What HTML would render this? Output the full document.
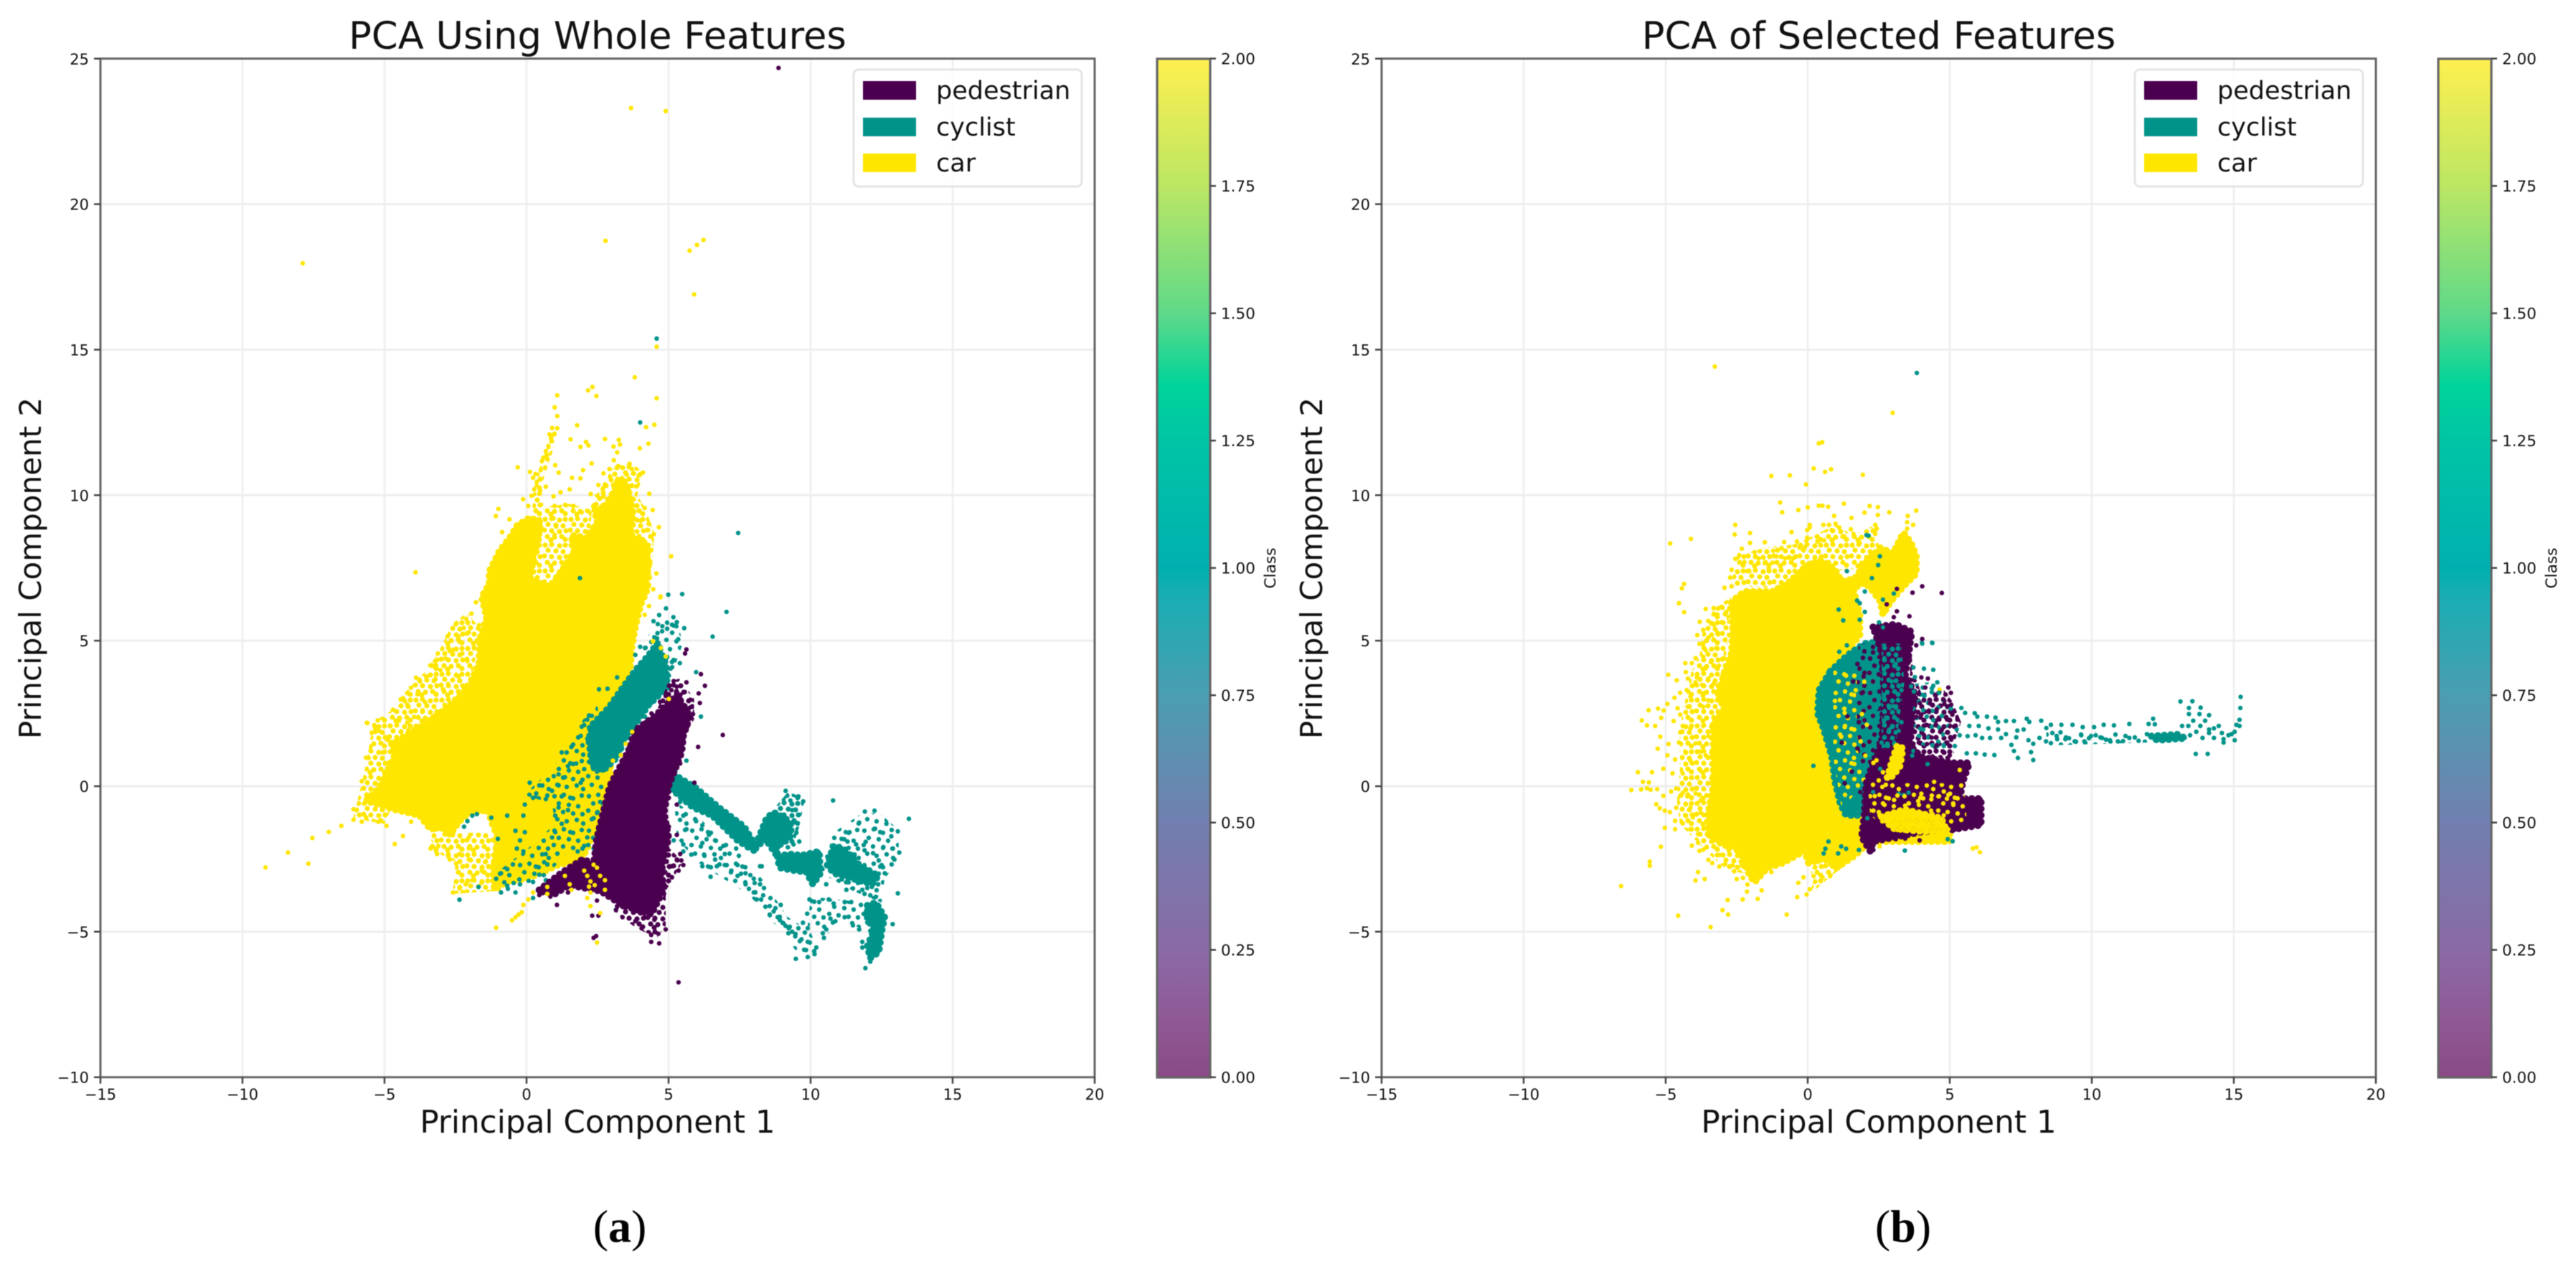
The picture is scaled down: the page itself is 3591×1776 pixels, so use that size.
<!DOCTYPE html>
<html lang="en">
<head>
<meta charset="utf-8">
<title>PCA scatter comparison</title>
<style>
html,body{margin:0;padding:0;background:#fff;}
svg{display:block;filter:blur(.6px);}
text{font-family:"DejaVu Sans","Liberation Sans",sans-serif;fill:#111;}
.cap{font-family:"Liberation Serif",serif;font-size:64px;fill:#000;}
</style>
</head>
<body>
<svg id="fig" xmlns="http://www.w3.org/2000/svg" width="3591" height="1776" viewBox="0 0 3591 1776">
<defs>
<linearGradient id="cbGrad" x1="0" y1="1" x2="0" y2="0">
<stop offset="0" stop-color="#8a4a87"/><stop offset=".06" stop-color="#8f5a96"/><stop offset=".125" stop-color="#8a6aa6"/><stop offset=".25" stop-color="#727fb0"/><stop offset=".375" stop-color="#4b9eb2"/><stop offset=".475" stop-color="#18aeb2"/><stop offset=".5" stop-color="#00b0b0"/><stop offset=".625" stop-color="#00c5a5"/><stop offset=".68" stop-color="#00d49a"/><stop offset=".75" stop-color="#5fd98a"/><stop offset=".875" stop-color="#bbe763"/><stop offset="1" stop-color="#fff050"/>
</linearGradient>
<g id="tileDense"><circle cx="4" cy="4" r="3.6"/><circle cx="13" cy="3" r="3.6"/><circle cx="24" cy="5" r="3.6"/><circle cx="32" cy="4" r="3.6"/><circle cx="8" cy="11" r="3.6"/><circle cx="19" cy="12" r="3.6"/><circle cx="29" cy="13" r="3.6"/><circle cx="3" cy="19" r="3.6"/><circle cx="13" cy="20" r="3.6"/><circle cx="24" cy="21" r="3.6"/><circle cx="33" cy="20" r="3.6"/><circle cx="7" cy="28" r="3.6"/><circle cx="17" cy="29" r="3.6"/><circle cx="27" cy="28" r="3.6"/><circle cx="12" cy="33" r="3.6"/><circle cx="32" cy="32" r="3.6"/></g>
<g id="tileLight"><circle cx="5" cy="6" r="3.2"/><circle cx="18" cy="4" r="3.2"/><circle cx="31" cy="9" r="3.2"/><circle cx="43" cy="5" r="3.2"/><circle cx="11" cy="16" r="3.2"/><circle cx="25" cy="18" r="3.2"/><circle cx="38" cy="20" r="3.2"/><circle cx="4" cy="26" r="3.2"/><circle cx="17" cy="28" r="3.2"/><circle cx="31" cy="30" r="3.2"/><circle cx="44" cy="31" r="3.2"/><circle cx="9" cy="38" r="3.2"/><circle cx="22" cy="41" r="3.2"/><circle cx="36" cy="39" r="3.2"/><circle cx="45" cy="44" r="3.2"/><circle cx="27" cy="8" r="3.2"/></g>
<pattern id="speck-0-dense" width="36" height="36" patternUnits="userSpaceOnUse"><use href="#tileDense" fill="#4b004f"/></pattern>
<pattern id="speck-1-dense" width="36" height="36" patternUnits="userSpaceOnUse"><use href="#tileDense" fill="#00938a"/></pattern>
<pattern id="speck-2-dense" width="36" height="36" patternUnits="userSpaceOnUse"><use href="#tileDense" fill="#ffe600"/></pattern>
<pattern id="speck-0-light" width="48" height="48" patternUnits="userSpaceOnUse"><use href="#tileLight" fill="#4b004f"/></pattern>
<pattern id="speck-1-light" width="48" height="48" patternUnits="userSpaceOnUse"><use href="#tileLight" fill="#00938a"/></pattern>
<pattern id="speck-2-light" width="48" height="48" patternUnits="userSpaceOnUse"><use href="#tileLight" fill="#ffe600"/></pattern>
</defs>
<text class="cap" x="864" y="1731" text-anchor="middle">(<tspan font-weight="bold">a</tspan>)</text>
<text class="cap" x="2653" y="1731" text-anchor="middle">(<tspan font-weight="bold">b</tspan>)</text>
</svg>
<script>
const xTicks=[-15,-10,-5,0,5,10,15,20];
const yTicks=[-10,-5,0,5,10,15,20,25];
const cbTicks=[0,0.25,0.5,0.75,1,1.25,1.5,1.75,2];
const classNames=['pedestrian','cyclist','car'];
const classColors=['#4b004f','#00938a','#ffe600'];

/* ---------- Panel A: dense regions, data units ---------- */
const aCarBlob=[[-4.75,1.48],[-4.39,1.66],[-3.48,2.19],[-2.76,2.72],[-2.03,3.42],[-1.67,4.21],[-1.63,5.09],[-1.4,5.8],[-1.58,6.5],[-1.31,6.94],[-1.31,7.38],[-.95,8.09],[-.59,8.53],[-.32,8.97],[.14,9.23],[.5,9.05],[.41,8.53],[.23,7.82],[.14,7.12],[.5,6.94],[.86,6.85],[1.22,7.38],[1.67,8],[1.58,8.62],[2.12,8.53],[2.49,9.05],[2.4,9.5],[2.76,9.58],[3.03,10.02],[3.21,10.46],[3.48,10.46],[3.62,10.02],[3.75,9.41],[3.66,8.62],[4.2,8.35],[4.29,7.65],[4.2,7.03],[4.29,6.85],[4.02,6.24],[3.84,5.53],[3.7,4.74],[3.66,4.12],[3.3,3.2],[3,2],[2.93,0],[2.48,-1.2],[2.14,-2.14],[1.92,-2.52],[1.13,-2.7],[.45,-3],[0,-3.18],[-.68,-3.27],[-1.13,-3.56],[-1.18,-2.9],[-1.01,-1.76],[-1.24,-1.2],[-1.35,-.82],[-2.03,-.92],[-2.36,-1.2],[-2.7,-1.67],[-2.93,-1.39],[-3.38,-1.48],[-3.77,-1],[-4.64,-.8],[-5.65,-.5],[-5.2,-.08],[-4.64,1.05]];
const aCarFringeLeft=[[-6.1,-1.1],[-5.8,.1],[-5.6,1],[-5.4,2.2],[-4.6,2.7],[-4.2,3.3],[-3.6,3.9],[-3.1,4.6],[-2.6,5.6],[-2.1,5.95],[-1.6,5.4],[-2,3.4],[-4,1],[-5,-1.3]];
const aCarFringeSpike=[[.2,9.3],[.25,10.2],[.45,10.9],[.7,11.6],[.9,12.3],[1.1,12.3],[.95,11.6],[.75,11],[.55,10.4],[.6,9.3]];
const aCarFringeCrest=[[2.2,9.5],[2.7,10.4],[3.1,11],[3.7,11.1],[4.1,10.8],[3.9,10],[4.2,9.5],[4.5,8.7],[4.4,7.2],[3.7,8.5]];
const aCarFringeNotch=[[-.3,8.9],[.6,9.6],[1.5,9.7],[2.3,9.5],[2.2,8.3],[1.5,7.4],[.8,6.9],[.2,7]];
const aCarFringeLower=[[-3.4,-1.4],[-2.7,-1.6],[-1.1,-1.6],[-1.1,-3.6],[-2.6,-3.7],[-2.5,-2.6],[-3.3,-2.2]];
const aCyclistBlob=[[4.6,4.9],[4.9,4.2],[4.95,3.4],[4.3,2.8],[3.8,2.1],[3.4,1.5],[3.2,1],[2.7,.55],[2.3,.7],[2.2,1.6],[2.3,2.1],[2.9,2.7],[3.4,3.4],[3.85,4],[4.3,4.5]];
const aCyclistSpeckOnCar=[[-.1,-.3],[.9,.6],[1.4,1.3],[2,2.3],[2.5,2.8],[2.6,1.5],[2.8,.8],[2.6,-1.3],[2.2,-2.2],[1.4,-2.3],[.7,-3.1],[-.9,-3.7],[-1.1,-3],[.1,-2.1],[1,-1.3],[.9,-.6]];
const aCyclistSpeckTop=[[4,4.5],[4.6,5.9],[5.3,5.7],[5.5,4.9],[5.1,3.8],[4.7,4.5]];
const aCyclistSpeckBand=[[5.2,-.5],[6.2,-1.2],[7.6,-2.4],[8.3,-3.2],[9.2,-4.5],[10,-5],[10.3,-5.8],[9.6,-5.8],[8.8,-4.8],[7.8,-3.7],[6.8,-3.1],[6,-2.6],[5.3,-1.8]];
const aCyclistSpeckCloud=[[10.4,-3],[10.8,-1.6],[11.7,-1],[12.4,-.9],[13.1,-1.5],[13.1,-2.5],[12.6,-3.2],[12.5,-4],[11.5,-3.6]];
const aCyclistSpeckFork=[[8,-2],[8.6,-.9],[9.2,-.2],[9.8,-.4],[9.6,-1.4],[9.4,-2]];
const aCyclistSpeckLow=[[10,-3.8],[11,-3.9],[12,-4],[12.1,-5],[11,-4.6],[10.5,-5.2],[9.9,-4.8]];
const aCyclistTail=[[5.18,.41],[5.97,-.07],[6.76,-.73],[7.66,-1.39],[8,-1.95],[7.88,-2.14],[7.43,-1.86],[6.53,-1],[5.86,-.73],[5.07,-.07]];
const aCyclistFork=[[8,-2.2],[8.45,-1.1],[8.7,-.9],[9.1,-1.1],[9.3,-1.3],[9.3,-1.7],[9,-2],[8.8,-2],[8.84,-2.42],[8.4,-1.8]];
const aCyclistBlock=[[8.84,-2.42],[8.9,-2.8],[9.46,-2.9],[9.85,-2.95],[10.08,-3.37],[10.34,-3],[10.3,-2.24],[9.68,-2.38],[9.24,-2.33]];
const aCyclistCore=[[10.59,-2.71],[10.81,-2.05],[11.15,-2.14],[11.71,-2.71],[12.38,-3.08],[12.16,-3.37],[11.49,-3.18],[10.81,-2.99]];
const aCyclistSpot=[[12,-4.1],[12.3,-4],[12.6,-4.5],[12.5,-5],[12.4,-5.7],[12.1,-5.9],[12,-5.5],[12.25,-4.9],[12,-4.6]];
const aPedestrianBlob=[[3.6,1.25],[2.93,0],[2.48,-1.76],[2.36,-2.7],[2,-2.5],[1.2,-3],[.4,-3.6],[1,-3.7],[1.5,-3.4],[2.6,-3.6],[3.4,-4.1],[4.4,-4.4],[4.85,-3.5],[4.73,-2.99],[5,-1.76],[4.84,-.92],[5,0],[5.46,1.16],[5.52,1.73],[5.74,2.39],[5.3,3.14],[4.5,2.39],[3.83,1.92]];
const aPedestrianSpeckTop=[[4.5,2.4],[5,3.6],[5.4,3.7],[5.9,3],[5.9,2.3],[5.5,1.6],[5.4,1]];
const aPedestrianSpeckLow=[[2.9,-3.5],[3.2,-4.4],[3.9,-4.9],[4.6,-5.2],[4.9,-4.8],[4.9,-3.6],[5.5,-2.6],[5,-2.1],[4.7,-3]];

/* ---------- Panel A: sparse points, data units ---------- */
const aCarPoints=[[-7.88,17.97],[3.68,23.3],[4.9,23.2],[2.78,18.74],[5.74,18.4],[6,18.6],[6.23,18.77],[5.9,16.9],[4.58,15.1],[3.81,14.05],[2.32,13.72],[2.17,13.6],[2.46,13.41],[1.08,13.43],[4.58,13.33],[.99,13.02],[1.08,12.72],[1.78,12.4],[4.5,12.42],[4.21,12.34],[.9,12.31],[1.08,12.3],[.81,12.09],[.86,11.96],[1.55,11.92],[2.76,11.93],[3.25,11.9],[2.09,11.83],[2.18,11.71],[1.9,11.66],[3.29,11.74],[3.06,11.67],[4.29,11.77],[3.99,11.61],[3.19,11.47],[.77,11.69],[.68,11.51],[.59,11.29],[.54,11.17],[.72,11.38],[1.01,11.03],[1.13,10.78],[2.29,11.09],[3.07,11.2],[2.92,10.9],[3.23,11],[3.63,11.08],[3.71,10.9],[1.99,10.86],[2.71,10.75],[2.94,10.64],[3.53,10.7],[4.1,10.78],[3.95,10.68],[1.6,10.6],[1.9,10.58],[.5,10.86],[.32,10.73],[.23,10.6],[.36,10.46],[.27,10.2],[.48,10.15],[.68,10.29],[-.31,10.96],[.12,10.8],[2.53,10.35],[2.76,10.37],[1.52,10.2],[3.86,10.3],[4.32,10.05],[1.2,10.1],[.95,9.96],[2.26,10.04],[2.49,9.98],[2.71,9.95],[-.12,9.86],[.18,9.98],[-.99,9.53],[-1.08,9.28],[-.6,9.17],[.06,9.63],[4.16,9.56],[4.44,9.49],[.99,9.63],[1.36,9.67],[1.65,9.63],[1.94,9.41],[4.02,9.12],[4.3,9.02],[4.66,8.9],[.95,9.21],[1.04,8.92],[.99,8.64],[-.86,8.73],[4.48,8.66],[5.09,7.9],[4.57,7.31],[4.34,7.16],[-3.91,7.35],[4.46,6.77],[4.72,6.52],[4.31,6.19],[4.16,5.89],[-1.78,6.32],[-1.94,5.93],[-2.12,5.75],[-1.67,5.53],[-2.49,5.56],[-2.21,5.44],[-2.03,5.29],[-2.4,5.14],[-2.78,5.15],[-2.35,4.96],[-1.85,4.74],[-2.58,4.69],[-2.71,4.65],[-3.12,4.56],[-2.26,4.56],[-2.85,4.39],[-3.21,4.3],[-3.39,4.15],[-2.08,4.3],[-3.03,3.99],[-3.89,3.73],[-3.53,3.77],[-3.21,3.68],[-3.75,3.6],[-4.07,3.38],[-4.2,3.2],[-3.84,3.16],[-3.57,2.89],[-4.43,2.98],[-4.2,2.8],[-4.7,2.63],[-3.66,2.61],[-3.96,2.38],[-4.49,2.25],[-5.6,2.17],[-5.24,2.26],[-5.33,2.01],[-5.45,1.84],[-4.9,1.59],[-5.06,1.16],[-5.56,.97],[-4.2,2.19],[-4.16,1.93],[-2.76,3.51],[-2.94,3.33],[-2.4,3.77],[-2.21,3.42],[-3.38,-2.14],[-3.1,-2.05],[-3.15,-2.33],[-2.25,-1.86],[-2.03,-1.76],[-2.36,-2.33],[-2.7,-2.52],[-2.48,-2.66],[-2.03,-2.14],[-2.03,-2.52],[-2.59,-3.65],[-2.36,-3.51],[-2.14,-3.37],[-1.91,-3.23],[-1.58,-2.9],[-1.46,-2.61],[-1.58,-3.32],[-1.35,-2.42],[-1.07,-4.86],[-.51,-4.61],[-.39,-4.5],[-.28,-4.41],[-.17,-4.33],[-.11,-4.08],[.06,-3.89],[.23,-3.65],[-9.19,-2.79],[-7.68,-2.66],[-8.4,-2.28],[-7.54,-1.78],[-6.96,-1.57],[-6.52,-1.36],[-6.09,-1.15],[-5.65,-1.07],[-6.09,-.79],[-5.8,-1.22],[-4.64,-1.99],[-4.35,-1.71],[-4.93,-1.36],[-5.22,-1.22],[-4.06,-1.22],[-3.33,-2.07],[-2.75,-2.42],[-3.19,-2.21],[-5.62,2.18],[-5.65,.98],[-5.8,.17],[-5.5,.48],[-5.2,1.9],[-5.36,2.1],[-4.35,3.03],[-3.77,3.66],[-3.19,4.16]];
const aCyclistPoints=[[4.58,15.38],[7.45,8.7],[4,12.5],[5.48,6.6],[4.99,6.58],[7.04,5.99],[6.55,5.14],[4.91,6.11],[4.67,5.88],[4.47,5.67],[5.17,5.81],[5.29,5.64],[5.55,5.43],[4.78,5.5],[4.95,5.41],[4.61,5.26],[4.5,5.12],[5.12,5.55],[5.34,5.05],[3.83,4.51],[4,4.79],[4.17,4.75],[5.4,4.23],[5.07,4.04],[5.12,4.27],[5.01,3.8],[5.97,3.92],[3.19,3.74],[2.85,3.35],[2.55,3.33],[6.14,2.39],[1.88,7.15],[2.2,2.43],[2.14,2.29],[2.03,2.1],[1.91,1.73],[2.48,1.82],[2.14,1.63],[2.31,1.25],[1.24,1.16],[1.58,1.35],[1.75,.78],[1.46,.69],[1.13,.41],[2.03,.59],[1.35,.31],[2.48,.5],[2.7,.88],[1.91,.12],[.9,-.16],[1.13,.03],[.45,.03],[.11,.12],[.34,-.25],[.68,-.44],[.23,-.4],[-.06,-.63],[1.24,-.35],[1.46,-.82],[1.13,-.73],[1.01,-1.01],[2.59,-.54],[2.48,-.92],[2.36,-1.1],[2.7,-1.1],[1.24,-1.29],[1.01,-1.58],[.9,-1.76],[-.11,-1.01],[-.68,-1.01],[-1.24,-1.08],[-1.91,-1.01],[-2.08,-1.2],[-2.2,-1.39],[-1.75,-.96],[-.06,-1.58],[-.39,-1.53],[-1.01,-1.81],[-.23,-1.86],[-.34,-2.14],[-.11,-2.24],[.68,-2.33],[.62,-2.61],[1.8,-2.24],[2.03,-2.05],[2.14,-1.76],[2.36,-2.14],[2.48,-1.67],[-.68,-2.85],[-.9,-2.99],[-1.07,-3.18],[-.68,-3.42],[-.9,-3.65],[-.39,-3.65],[-.23,-3.37],[-1.69,-3.46],[-2.36,-3.9],[.23,-3.29],[.45,-3.04],[.68,-3.23],[.23,-3.84],[3.15,-4.24],[4.5,-.16],[4.56,-.63],[4.62,-.96],[5.41,1.25],[5.63,.88],[5.24,.5],[5.29,1.73],[5.01,1.82],[4.84,1.4],[4.39,2.86],[5.18,2.58],[5.41,2.2],[4.17,2.39],[2.87,-.77],[2.59,-1.29],[4.9,-.54],[5.41,-.54],[5.52,-1.01],[5.63,-1.48],[5.97,-1.2],[6.19,-1.34],[6.42,-1.67],[6.64,-1.86],[6.93,-2.05],[6.19,-1.95],[5.52,-2],[5.18,-1.86],[5.8,-2.35],[5.52,-2.24],[6.25,-2.35],[6.19,-2.75],[6.48,-3.11],[6.64,-2.52],[6.98,-2.33],[7.38,-2.14],[6.98,-2.71],[7.43,-2.71],[6.7,-2.75],[7.21,-2.9],[7.43,-3.08],[7.71,-2.99],[8,-3.18],[8.22,-3.37],[8.28,-2.75],[7.71,-3.37],[8,-3.65],[8.33,-3.75],[8.1,-3.89],[8.56,-4.12],[8.95,-4.08],[8.56,-4.41],[9.01,-4.69],[9.23,-4.88],[9.46,-5.16],[8.84,-4.5],[8.7,-4.3],[8.92,-4.6],[9.12,-4.8],[9.35,-5],[9.68,-5.26],[9.9,-5.35],[9.84,-5.63],[9.9,-5.87],[9.48,-5.93],[10.14,-5.77],[10.2,-5.54],[10.47,-5.21],[10.55,-4.92],[9.9,-4.88],[9.57,-4.88],[9.73,-4.69],[9.88,-4.38],[9.96,-3.89],[10.3,-3.98],[10.64,-3.89],[10.81,-4.03],[10.7,-4.55],[10.87,-4.64],[11.2,-3.98],[11.43,-3.98],[11.77,-4.08],[11.2,-4.5],[11.49,-4.78],[11.71,-4.92],[12.1,-4.97],[11.82,-5.35],[11.82,-5.54],[12.1,-6.03],[11.93,-6.25],[12.89,-4.74],[13.07,-3.68],[10.55,-3.37],[10.79,-.49],[9.12,-.16],[9.57,-.35],[9.74,-.52],[9.29,-.49],[9.35,-.82],[9.46,-1.24],[11.91,-.87],[12.25,-.84],[13.46,-1.12],[11.71,-1.25],[12.67,-1.29],[12.27,-1.46],[11.37,-1.58],[13.07,-1.55],[11.09,-1.81],[11.94,-1.91],[12.84,-1.72],[12.56,-2.09],[13.12,-2.28],[12.9,-2.14],[10.87,-2.14],[10.59,-2.42],[10.42,-2.85],[10.81,-2.9],[11.26,-3.56],[11.49,-3.51],[11.82,-3.56],[12.61,-2.99],[12.38,-3.37],[12.16,-3.46],[12.5,-2.71],[12.95,-2.52],[8.22,-2.75],[11.3,-1.9],[11.6,-2],[11.9,-2.2],[12.2,-2.3],[12.4,-2.55],[11.55,-2.35],[11.25,-3.3],[11.9,-3.7],[12.1,-3.75],[12.3,-3.8],[11.1,-3.2],[11,-2.7],[9.5,-1.6],[9.6,-1.9],[9.4,-2],[9.2,-2.1]];
const aPedestrianPoints=[[8.87,24.68],[5.35,-6.74],[2.36,-5.21],[2.45,-5.15],[4.39,-5.35],[4.67,-5.4],[4.39,-5.11],[4.64,-5.07],[4.9,-4.92],[4.05,-4.88],[3.83,-4.64],[3.38,-4.5],[3.15,-4.26],[4.17,-4.5],[4.5,-4.59],[2.31,-4.45],[2.53,-4.45],[1.07,-4.08],[.84,-3.79],[1.46,-3.65],[.45,-3.74],[.56,-3.46],[.9,-3.37],[1.13,-3.27],[1.69,-3.08],[1.91,-2.7],[2.48,-3.93],[3.27,-3.93],[3.49,-3.74],[3.83,-4.03],[4.05,-3.84],[4.28,-4.22],[4.39,-3.84],[4.84,-3.7],[4.84,-3.37],[5.12,-3.13],[5.52,-2.71],[5.29,-2.52],[5.41,-2.33],[5.01,-1.39],[5.29,-1.67],[5.29,-.63],[5.01,-.4],[5.91,.12],[6.04,1.35],[6.91,1.76],[6.28,3.45],[6.14,3.85],[5.63,4.7],[5.58,4.56],[6.06,3.19],[6.1,2.86],[5.77,2.97],[5.57,3.24],[5.29,3.42],[5.18,3.61],[5.63,3.57],[5.86,2.48],[5.63,2.67],[5.52,1.63],[5.41,.78],[5.2,2.9],[5.4,3],[4.9,3.1],[5.1,3.3],[4.7,2.9],[5.5,2.5],[5.75,2.7],[4.4,2.5],[4.2,2.2],[5.35,-2.9],[5.1,-2.75],[5.45,-2.55]];
const aCarTopPoints=[[.73,-3.46],[.73,-3.7],[1.52,-3.37],[1.58,-3.56],[1.35,-3.08],[2.03,-2.9],[2.14,-3.08],[2.25,-3.27],[2.48,-2.8],[2.59,-3.08],[2.76,-3.23],[2.76,-3.56],[2.25,-3.65],[2.14,-3.84],[2.25,-4.12],[2.59,-4.36],[2.48,-5.37],[2.36,-2.7],[5.01,3],[3.32,1.07],[3.04,.88],[3.72,1.87],[3.49,1.46],[4.71,6.49],[4.45,4.98],[4.73,4.75],[4.9,4.46],[2.2,-3.45],[2.4,-3.4]];

/* ---------- Panel B: dense regions, data units ---------- */
const bCarBlob=[[-3.5,-1.65],[-3.5,-.9],[-3.32,0],[-3.32,1.32],[-3.32,2.2],[-2.95,2.64],[-3.13,3.17],[-2.95,3.87],[-2.68,4.58],[-2.64,5.46],[-2.68,6.34],[-2.23,6.69],[-1.24,6.69],[-.6,7.04],[-.06,7.57],[.48,7.75],[.93,7.48],[1.2,7.04],[1.65,7.13],[2.1,7.75],[2.56,8.19],[3,8],[3.37,8.71],[3.64,8.36],[3.82,7.92],[3.82,7.3],[3.37,6.87],[2.92,6.34],[2.65,5.9],[2.55,6.35],[2.3,6.7],[2,7],[1.6,6.8],[1.83,5.9],[1.83,5.2],[1.29,4.49],[.75,3.96],[.39,3.52],[.3,2.64],[.66,1.76],[.93,.88],[.93,0],[.84,-.25],[1.5,-.3],[5,-1],[5,-1.9],[2.5,-1.9],[2.1,-1.98],[1.65,-2.39],[1.02,-2.8],[.57,-2.47],[.03,-2.64],[-.11,-2.22],[-.88,-2.64],[-1.42,-2.8],[-1.87,-3.3],[-2.05,-3.05],[-2.32,-2.39],[-2.6,-2.06],[-3.04,-1.98]];
const bCarFringeLeft=[[-2.7,6.5],[-3.3,6.1],[-3.7,5.3],[-3.8,4.5],[-4.1,3.9],[-4.3,3],[-4.5,2],[-4.5,.5],[-4.6,-.5],[-4.5,-1.3],[-4,-1.8],[-3.4,-2.4],[-2.8,-2.9],[-2.2,-3],[-2.3,-2],[-3.2,-1.5],[-3.1,2]];
const bCarFringeTop=[[-2.7,6.9],[-2.5,7.9],[-1.5,8.2],[-.5,8.3],[.2,8.6],[1,9],[1.6,8.6],[2.4,9],[2.5,8.2],[2,7.5],[1,7.4],[0,7.4],[-1,6.8]];
const bCarFringeLow=[[0,-2.6],[.2,-3.2],[.1,-3.7],[.8,-3.1],[1.2,-2.8],[.9,-2.6]];
const bCyclistBlob=[[.8,3.95],[1.4,4.5],[2,4.9],[2.9,5],[3,4.3],[2.9,3.2],[2.8,1.8],[2.5,.6],[2.2,-.5],[1.75,-1],[1.35,-1],[1.15,-.6],[.95,.2],[.85,1],[.55,2],[.35,2.5],[.4,3.3]];
const bCyclistStrip=[[12.1,1.72],[13,1.78],[13.3,1.65],[12.3,1.58]];
const bCyclistBand=[[8.4,1.4],[12,1.5],[12,1.85],[8.4,1.9]];
const bPedestrianBlob=[[2.3,5.47],[3.1,5.56],[3.66,5.31],[3.55,4.49],[3.43,3.84],[3.77,3.18],[3.7,2.4],[3.6,1.4],[4,1],[5.12,.8],[5.69,.8],[5.46,.15],[5.35,-.43],[6.1,-.43],[6.1,-1.33],[5.12,-1.49],[4,-1.57],[2.31,-1.9],[2.2,-2.23],[1.9,-1.74],[2,-.92],[2.05,.07],[2.3,.8],[2.6,1.5],[2.7,3.2],[2.6,4.6]];
const bPedestrianLace=[[3.6,5.3],[3.7,4],[4,3.2],[4.8,3.3],[5.1,2.9],[5.4,2.2],[5.1,1.3],[5.2,.9],[3.9,1.1],[3.6,1.6]];
const bPedestrianOnCyclist=[[1.8,4.9],[2.7,4.9],[2.7,2],[2.1,.5],[1.8,.7],[1.7,3]];
const bCyclistOnPedestrian=[[2.6,4.9],[3.3,4.9],[3.4,3.5],[3.1,1.4],[2.6,1.3]];
const bCyclistOnLace=[[3.6,3.5],[4.6,3.6],[5,2.2],[4.6,1.2],[3.8,1.5]];
const bCarPatchA=[[2.8,.3],[2.95,.8],[3.15,1.4],[3.35,1.3],[3.25,.7],[3,.35]];
const bCarPatchB=[[2.6,-1.05],[3.4,-.8],[4.7,-1.1],[4.9,-1.55],[4,-1.55],[3,-1.45]];
const bPedestrianOnPatch=[[2.6,-1.1],[4.9,-1.1],[4.9,-1.55],[2.6,-1.55]];
const bCarOnPedestrian=[[2.1,.2],[3.5,.1],[5.5,.1],[5.6,-1.2],[5,-1.6],[3,-1.6],[2.2,-1]];
const bCarOnCyclist=[[.9,4],[2.4,4],[2.3,.5],[1.2,-.8],[.9,1]];

/* ---------- Panel B: sparse points, data units ---------- */
const bCarPoints=[[-3.27,14.42],[2.99,12.83],[.51,11.82],[.39,11.78],[.21,10.92],[.61,10.8],[.82,10.89],[-1.28,10.66],[-.63,10.68],[1.94,10.7],[-.06,10.37],[-.97,9.75],[-.9,9.41],[-.33,9.49],[0,9.58],[.39,9.64],[.52,9.64],[.72,9.6],[1.27,9.71],[2.18,9.63],[2.47,9.59],[2,9.4],[2.47,9.32],[2.87,9.41],[3.82,9.47],[3.52,9.29],[.93,9.29],[1.54,9.22],[3.5,9.07],[3.5,8.85],[3.71,8.98],[-2.55,8.98],[.07,8.98],[.07,8.89],[.55,8.98],[.75,8.98],[.98,9.02],[2.38,8.98],[2.43,8.85],[-2.57,8.65],[-2.03,8.7],[-.57,8.73],[-.02,8.8],[.84,8.8],[1.52,8.83],[1.11,8.89],[1.61,8.67],[-4.11,8.5],[-4.84,8.34],[-2.03,8.36],[-1.51,8.38],[-.83,8.39],[-.38,8.41],[-.02,8.54],[.34,8.41],[.57,8.45],[1.29,8.58],[2.38,8.67],[1.83,8.36],[-2.32,8.16],[-1.87,8.04],[-1.22,8.09],[-.92,8.17],[-.29,8.2],[-.11,8.2],[-1.1,7.9],[-2.41,7.94],[-2.55,7.81],[-1.73,7.83],[-1.51,7.66],[-.51,7.83],[-.79,7.83],[-1.24,7.68],[-1.37,7.48],[-2.68,7.44],[-2.73,7.17],[-2.23,7.7],[-2.14,7.39],[-4.35,6.95],[-4.43,6.8],[-2.93,6.82],[-2.68,6.87],[-4.53,6.29],[-4.35,5.98],[-3.31,6.12],[-3.04,6.16],[-3.59,6.09],[-3.18,5.9],[-2.86,5.99],[-3.8,5.65],[-3.5,5.68],[-3.31,5.55],[-3.04,5.63],[-3.68,5.37],[-3.89,5.19],[-3.5,5.11],[-3.81,4.89],[-3.18,5.28],[-2.77,5.19],[-3.22,4.75],[-3.59,4.67],[-3.95,4.4],[-3.68,4.45],[-4.31,4.23],[-4.08,4.23],[-3.41,4.27],[-2.95,4.4],[-3.59,4.05],[-3.13,4.14],[-4.91,3.83],[-4.29,3.92],[-4.61,3.64],[-3.9,3.74],[-4.22,3.7],[-3.95,3.57],[-3.5,3.7],[-3.72,3.48],[-3.31,3.52],[-4.26,3.3],[-4.49,3.21],[-4.13,3.08],[-4.69,3.04],[-3.68,3.19],[-3.5,2.95],[-4.94,2.83],[-4.22,2.73],[-4.58,2.68],[-3.68,2.73],[-5.27,2.67],[-5.07,2.6],[-5.6,2.61],[-4.49,2.46],[-4.72,2.24],[-5.16,2.35],[-5.84,2.26],[-5.66,2.09],[-5.37,2.07],[-4.4,2.07],[-4.13,1.98],[-4.49,1.85],[-3.68,2.07],[-5.19,1.7],[-3.5,1.72],[-4.53,1.5],[-3.95,1.47],[-4.9,1.45],[-5.28,1.29],[-4.94,1.06],[-4.31,1.19],[-3.77,1.19],[-4.67,.92],[-4.13,.88],[-3.59,1.06],[-5.08,.6],[-5.98,.48],[-5.48,.48],[-4.76,.44],[-4.4,.44],[-5.8,.15],[-5.59,.13],[-3.77,.53],[-5.66,-.07],[-6.21,-.13],[-5.86,-.11],[-5.53,-.12],[-5.3,-.1],[-4.63,-.08],[-4.81,-.18],[-5.08,-.33],[-4.4,-.23],[-4.24,-.35],[-3.95,-.25],[-5.33,-.62],[-5.21,-.76],[-5.03,-.84],[-4.63,-.74],[-4.85,-.89],[-3.77,-.49],[-4.13,-.74],[-4.31,-.99],[-4.04,-1.07],[-3.77,-.91],[-4.67,-1.19],[-4.4,-1.28],[-5.03,-1.43],[-4.67,-1.48],[-4.13,-1.48],[-3.86,-1.65],[-5.17,-2.08],[-4.08,-2.04],[-3.86,-1.94],[-3.81,-2.22],[-3.68,-2.18],[-3.09,-2.36],[-3.5,-2.53],[-3.36,-2.64],[-3.11,-2.76],[-2.91,-2.68],[-2.64,-2.72],[-2.59,-2.92],[-2.32,-2.72],[-5.56,-2.59],[-5.56,-2.73],[-3.86,-2.95],[-3.95,-3.24],[-3.63,-3.19],[-2.5,-3.19],[-2.28,-3.15],[-6.57,-3.43],[-2.12,-3.38],[-2.14,-3.62],[-1.62,-3.58],[-1.28,-2.95],[-2.82,-3.91],[-2.29,-3.89],[-1.76,-3.87],[-3,-4.26],[-2.8,-4.41],[-4.56,-4.45],[-3.42,-4.84],[-.74,-4.41],[-.37,-3.81],[-.04,-3.72],[.07,-3.54],[-.33,-3.32],[-.15,-3.13],[.21,-3.09],[.52,-3.13],[.79,-3.09],[.48,-2.76],[5.81,-2.14],[5.94,-2.1],[6.06,-2.27],[4.64,3.32]];
const bCyclistPoints=[[2.07,8.63],[2.14,8.61],[2.54,7.9],[2.48,7.6],[1.38,7.39],[2.26,7.15],[2.01,6.69],[3.03,6.62],[2.65,6.41],[1.74,6.38],[1.83,6.29],[1.09,6.07],[1.25,5.7],[2.01,5.99],[1.83,5.72],[2.51,5.63],[2.65,5.46],[1.38,4.84],[1.11,4.62],[4.02,4.93],[4.38,4.93],[3.84,14.2],[4.39,4.92],[4.03,4.9],[3.72,4.08],[4.09,4.04],[4.42,4],[3.77,3.75],[3.64,3.43],[4.05,3.39],[4.56,3.57],[4.37,3.36],[4.11,3.11],[2.87,2.69],[2.42,2.69],[3.1,2.69],[2.76,2.36],[2.98,2.07],[2.87,1.95],[2.82,1.38],[3.21,-.26],[3.38,-.3],[3.55,-.22],[3.68,1.05],[3.72,1.21],[4.22,.76],[4.56,1.38],[4.79,1.38],[5.1,-1.89],[4.93,-1.82],[3.42,-2.21],[2.53,-.96],[1.8,-2.19],[1.18,-2.07],[1.35,-2.15],[1.07,-2.31],[.62,-2.15],[.56,-2.31],[.73,-1.9],[.2,.7],[2.7,3],[3,2.75],[2.6,1.5],[3.05,1.45],[2.7,4.4],[3.1,4.2],[3.3,3.3],[2.95,3.6],[3.3,2.2],[3.2,1.9],[2.55,.6],[2.3,-.2],[2.1,-1.1],[5.41,2.69],[5.04,2.67],[5.54,2.52],[5.88,2.51],[5.97,2.39],[6.31,2.39],[6.61,2.36],[6.7,2.21],[6.98,2.24],[7.26,2.24],[7.71,2.32],[7.8,2.21],[8.22,2.25],[8.56,2.11],[8.93,2.11],[9.32,2.11],[9.68,2.03],[10.08,2.03],[10.42,2.11],[10.78,2.09],[11.32,2.14],[12,2.14],[12.16,2.32],[12.22,2.13],[13.12,2.91],[13.54,2.92],[13.42,2.69],[13.83,2.7],[13.42,2.48],[13.79,2.48],[14.13,2.44],[13.57,2.25],[13.99,2.25],[15.24,3.07],[15.23,2.69],[15.2,2.28],[15.2,2.07],[15.09,2.11],[14.47,2.07],[13.18,2.07],[13.4,2.07],[13.82,2.07],[14.13,1.95],[14.3,1.99],[13.46,1.75],[13.68,1.87],[13.9,1.66],[14.13,1.83],[14.58,1.83],[15.03,1.87],[14.92,1.79],[14.64,1.62],[14.64,1.5],[15.03,1.58],[13.66,1.11],[14.08,1.11],[14.3,1.66],[14.81,1.75],[5.24,1.95],[5.69,2.07],[6.02,2.07],[6.36,1.99],[6.7,1.95],[5.35,1.75],[5.63,1.72],[5.91,1.75],[6.14,1.66],[6.42,1.66],[6.81,1.66],[6.98,1.79],[7.38,1.91],[7.6,1.95],[7.34,1.68],[7.77,1.58],[7.94,1.46],[8.16,1.66],[8.39,1.54],[8.61,1.83],[8.78,1.62],[9.07,1.62],[9.4,1.54],[9.74,1.54],[9.63,1.75],[10.14,1.75],[10.36,1.66],[10.64,1.58],[10.92,1.54],[11.32,1.66],[11.65,1.56],[11.94,1.79],[8.4,2],[8.9,1.85],[9.2,1.65],[9.9,1.65],[10.5,1.6],[11.1,1.55],[5.6,1.13],[5.92,1.13],[6.23,1.09],[6.57,1.07],[7.17,1.42],[7.26,1.21],[7.4,.97],[7.86,1.17],[7.94,.9],[5.18,1.38],[4.79,1.42]];
const bPedestrianPoints=[[4.03,6.87],[3.69,6.65],[4.72,6.64],[3.14,6.78],[2.78,6.25],[3.14,6.01],[3.58,5.84],[3.03,5.81],[4.03,5.06],[3.82,4.84],[4,3.74],[4.23,3.7],[3.64,3.65],[4.14,3.39],[3.91,3.17],[4.95,3.39],[5.04,3.21],[4.77,2.99],[4.81,2.82],[4.54,2.64],[4.63,2.29],[4.27,2.55],[4,2.46],[4.18,2.11],[3.82,2.38],[3.64,2.68],[4.91,2.29],[5.09,2.46],[5.27,2.29],[4.91,1.85],[4.72,1.94],[4.36,1.67],[4.09,1.76],[3.91,1.5],[4.54,1.41],[4.91,1.5],[5,1.06],[4.81,.79],[5.63,.79],[5.45,.7],[3.46,5.37],[3.64,5.28],[3.19,5.5],[3.01,5.59],[5.91,-.47],[6.08,-.45],[5.57,-.45],[5.18,-1.49],[3.94,-1.86],[3.43,-1.8],[3.1,-1.82],[2.31,-2.19],[5.57,.76],[5.29,.6],[1.6,3.6],[1.9,3.2],[1.4,2.4],[1.8,2.2],[1.2,1.5],[1.75,1.3],[2,3.9],[1.75,4.2],[2.3,4.6],[1.55,.5],[1.3,.1],[1.85,-.2],[4.3,2.85],[3.95,2.85],[4.5,2.1],[4.2,1.45],[4.75,1.2],[5.05,1.6],[3.85,1.2],[4.4,.95],[5.05,2.8],[4.85,3.15],[5.15,2.05],[2.05,-1.25],[2.2,-1.5],[2.6,-1.7],[4.3,-1.3],[3.7,-1.25],[3.2,-1.15],[4.6,-.9],[3.8,-.85],[3,-.9],[2.65,-1.2]];
const bCarTopPoints=[[1.35,3.8],[1.69,3.3],[1.99,3.59],[1.3,2.52],[1.91,2.48],[.96,2.93],[1.3,2.03],[2.08,2.11],[1.18,1.7],[1.86,1.54],[2.03,1.05],[1.63,.97],[2.31,.8],[2.42,.89],[2.65,.48],[5.35,.56],[4.45,.15],[4.79,-.18],[5.01,-.26],[4.9,-.43],[5.12,-.59],[4,-.26],[3.55,-.59],[3.89,-.51],[3.04,-.47],[2.65,-.59],[2.36,-.34],[3.43,-.67],[4.34,-.84],[4.79,-1],[2.31,-.84],[2.53,-1],[2.87,-1.16],[3.1,-1.33],[2.53,-2.07],[4.6,-.35],[4.35,-.45],[2.75,.05],[2.5,.2]];

const svgNS='http://www.w3.org/2000/svg';
const fig=document.getElementById('fig');
const sx=v=>140+(v+15)*39.6;
const sy=v=>1096-v*40.57;
const cbY=v=>1501.7-v/2*1420;
const fmt=v=>String(v).replace('-','\u2212');

function mk(parent,tag,attrs,txt){
  const el=document.createElementNS(svgNS,tag);
  for(const k in attrs){el.setAttribute(k,attrs[k]);}
  if(txt!==undefined){el.textContent=txt;}
  parent.appendChild(el);
  return el;
}
function pathOf(pts){
  return 'M'+pts.map(p=>sx(p[0]).toFixed(1)+' '+sy(p[1]).toFixed(1)).join('L')+'Z';
}
function drawRegion(g,pts,cls,name){
  const color=classColors[cls];
  const el=mk(g,'path',{d:pathOf(pts),fill:color,stroke:color,'stroke-width':4,'stroke-linejoin':'round'});
  
  
  const edge=mk(g,'path',{d:pathOf(pts),fill:'none',stroke:color,'stroke-width':10,'stroke-linecap':'round','stroke-dasharray':'0 9'});
  
  
}
function drawSpeckle(g,pts,cls,density,name){
  const el=mk(g,'path',{d:pathOf(pts),fill:'url(#speck-'+cls+'-'+density+')'});
  
  
}
function drawPoints(g,pts,cls,name){
  pts.forEach(p=>{
    const el=mk(g,'circle',{cx:sx(p[0]).toFixed(1),cy:sy(p[1]).toFixed(1),r:3.2,fill:classColors[cls]});
    
    
  });
}
function drawPanel(dx,title,layers,panelName){
  const g=mk(fig,'g',{transform:'translate('+dx+',0)'});
  
  
  xTicks.slice(1,-1).forEach(v=>{
    const el=mk(g,'line',{x1:sx(v),x2:sx(v),y1:sy(25),y2:sy(-10),stroke:'#eeeeee','stroke-width':2.6});
    
    
  });
  yTicks.slice(1,-1).forEach(v=>{
    const el=mk(g,'line',{x1:sx(-15),x2:sx(20),y1:sy(v),y2:sy(v),stroke:'#eeeeee','stroke-width':3});
    
    
  });
  layers.forEach(l=>{
    if(l[0]==='region'){drawRegion(g,l[1],l[2],l[3]);}
    else if(l[0]==='dense'||l[0]==='light'){drawSpeckle(g,l[1],l[2],l[0],l[3]);}
    else{drawPoints(g,l[1],l[2],l[3]);}
  });

  const spine=mk(g,'rect',{x:sx(-15),y:sy(25),width:sx(20)-sx(-15),height:sy(-10)-sy(25),fill:'none',stroke:'#666','stroke-width':3});
  
  
  xTicks.forEach(v=>{
    const t=mk(g,'line',{x1:sx(v),x2:sx(v),y1:sy(-10),y2:sy(-10)+9,stroke:'#444','stroke-width':2.5});
    
    
    const l=mk(g,'text',{x:sx(v),y:1533,'text-anchor':'middle','font-size':21,fill:'#222'},fmt(v));
    
    
  });
  yTicks.forEach(v=>{
    const t=mk(g,'line',{x1:sx(-15)-9,x2:sx(-15),y1:sy(v),y2:sy(v),stroke:'#444','stroke-width':2.5});
    
    
    const l=mk(g,'text',{x:124,y:sy(v)+8,'text-anchor':'end','font-size':21,fill:'#222'},fmt(v));
    
    
  });
  const tt=mk(g,'text',{x:833,y:68,'text-anchor':'middle','font-size':52.7,fill:'#000'},title);
  
  
  const xl=mk(g,'text',{x:833,y:1579,'text-anchor':'middle','font-size':43.7},'Principal Component 1');
  
  
  const yl=mk(g,'text',{transform:'translate(57,792) rotate(-90)','text-anchor':'middle','font-size':42},'Principal Component 2');
  
  

  const lb=mk(g,'rect',{x:1190,y:97,width:318,height:163,rx:7,fill:'#fff','fill-opacity':.8,stroke:'#e4e4e4','stroke-width':3});
  
  
  classNames.forEach((n,i)=>{
    const yy=[113,164,214][i];
    const sw=mk(g,'rect',{x:1203,y:yy,width:74,height:26,fill:classColors[i]});
    
    
    const tx=mk(g,'text',{x:1305,y:yy+25,'font-size':35},n);
    
    
  });

  const cb=mk(g,'rect',{x:1613,y:82,width:74,height:1420,fill:'url(#cbGrad)',stroke:'#666','stroke-width':3.2});
  
  
  cbTicks.forEach(v=>{
    const t=mk(g,'line',{x1:1687,x2:1695,y1:cbY(v),y2:cbY(v),stroke:'#444','stroke-width':2.5});
    
    
    const l=mk(g,'text',{x:1702,y:cbY(v)+8,'font-size':21.5,fill:'#222'},v.toFixed(2));
    
    
  });
  const cl=mk(g,'text',{transform:'translate(1778,792) rotate(-90)','text-anchor':'middle','font-size':21.7,fill:'#222'},'Class');
  
  
}
const PED=0,CYC=1,CAR=2;
drawPanel(0,'PCA Using Whole Features',[
  ['dense',aCarFringeLeft,CAR,'car-fringe-left'],
  ['dense',aCarFringeSpike,CAR,'car-fringe-spike'],
  ['dense',aCarFringeCrest,CAR,'car-fringe-crest'],
  ['dense',aCarFringeNotch,CAR,'car-fringe-notch'],
  ['dense',aCarFringeLower,CAR,'car-fringe-lower'],
  ['region',aCarBlob,CAR,'car-dense-region'],
  ['points',aCarPoints,CAR,'car-point'],
  ['light',aCyclistSpeckOnCar,CYC,'cyclist-speckle-on-car'],
  ['light',aCyclistSpeckTop,CYC,'cyclist-speckle-top'],
  ['light',aCyclistSpeckBand,CYC,'cyclist-speckle-band'],
  ['light',aCyclistSpeckCloud,CYC,'cyclist-speckle-cloud'],
  ['dense',aCyclistSpeckFork,CYC,'cyclist-speckle-fork'],
  ['light',aCyclistSpeckLow,CYC,'cyclist-speckle-low'],
  ['region',aCyclistBlob,CYC,'cyclist-dense-region'],
  ['region',aCyclistTail,CYC,'cyclist-tail-region'],
  ['region',aCyclistFork,CYC,'cyclist-fork-region'],
  ['region',aCyclistBlock,CYC,'cyclist-block-region'],
  ['region',aCyclistCore,CYC,'cyclist-core-region'],
  ['region',aCyclistSpot,CYC,'cyclist-spot-region'],
  ['points',aCyclistPoints,CYC,'cyclist-point'],
  ['dense',aPedestrianSpeckTop,PED,'pedestrian-speckle-top'],
  ['dense',aPedestrianSpeckLow,PED,'pedestrian-speckle-low'],
  ['region',aPedestrianBlob,PED,'pedestrian-dense-region'],
  ['points',aPedestrianPoints,PED,'pedestrian-point'],
  ['points',aCarTopPoints,CAR,'car-point']
],'panel-whole-features');
drawPanel(1786,'PCA of Selected Features',[
  ['dense',bCarFringeLeft,CAR,'car-fringe-left'],
  ['dense',bCarFringeTop,CAR,'car-fringe-top'],
  ['dense',bCarFringeLow,CAR,'car-fringe-low'],
  ['region',bCarBlob,CAR,'car-dense-region'],
  ['points',bCarPoints,CAR,'car-point'],
  ['region',bCyclistBlob,CYC,'cyclist-dense-region'],
  ['region',bCyclistStrip,CYC,'cyclist-strip-region'],
  ['light',bCyclistBand,CYC,'cyclist-speckle-band'],
  ['light',bCarOnCyclist,CAR,'car-speckle-on-cyclist'],
  ['region',bPedestrianBlob,PED,'pedestrian-dense-region'],
  ['dense',bPedestrianLace,PED,'pedestrian-speckle-lace'],
  ['light',bPedestrianOnCyclist,PED,'pedestrian-speckle-on-cyclist'],
  ['dense',bCyclistOnPedestrian,CYC,'cyclist-speckle-on-pedestrian'],
  ['light',bCyclistOnLace,CYC,'cyclist-speckle-on-lace'],
  ['points',bCyclistPoints,CYC,'cyclist-point'],
  ['points',bPedestrianPoints,PED,'pedestrian-point'],
  ['region',bCarPatchA,CAR,'car-patch-region'],
  ['region',bCarPatchB,CAR,'car-patch-region'],
  ['light',bPedestrianOnPatch,PED,'pedestrian-speckle-on-patch'],
  ['light',bCarOnPedestrian,CAR,'car-speckle-on-pedestrian'],
  ['points',bCarTopPoints,CAR,'car-point']
],'panel-selected-features');
</script>
</body>
</html>
